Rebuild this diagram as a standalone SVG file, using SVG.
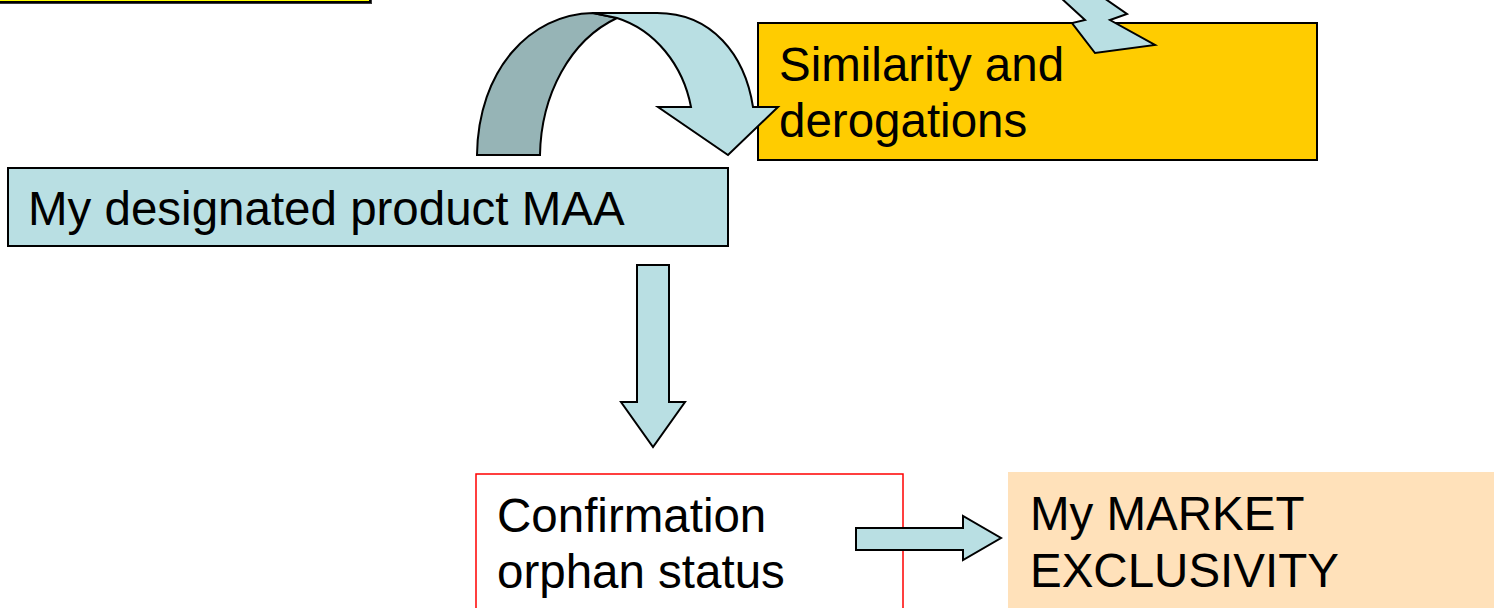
<svg xmlns="http://www.w3.org/2000/svg" width="1494" height="608" viewBox="0 0 1494 608">
  <style>
    .lbl { font-family: "Liberation Sans", Arial, sans-serif; font-size: 47.5px; fill: #000; }
    .box { stroke: #000; stroke-width: 2; }
    .flow { fill: #B9DFE3; stroke: #000; stroke-width: 2; stroke-linejoin: miter; }
    .back { fill: #96B4B6; stroke: #000; stroke-width: 2; }
  </style>
  <rect width="1494" height="608" fill="#fff"/>

  <!-- yellow header box, mostly off the top edge -->
  <g id="header-box">
    <rect x="-10" y="-60" width="382" height="64" fill="#3a3a3a"/>
    <rect x="-12" y="-62" width="382" height="64" fill="#FFFF00" class="box"/>
  </g>

  <!-- similarity / derogations -->
  <g id="similarity">
    <rect x="758" y="23" width="559" height="137" fill="#FFCC00" class="box"/>
    <text class="lbl" x="779" y="81">Similarity and</text>
    <text class="lbl" x="779" y="137">derogations</text>
  </g>

  <!-- designated product MAA -->
  <g id="maa">
    <rect x="8" y="168" width="720" height="78" fill="#B9DFE3" class="box"/>
    <text class="lbl" x="28" y="225">My designated product MAA</text>
  </g>

  <!-- confirmation of orphan status -->
  <g id="confirmation">
    <rect x="476" y="474" width="427" height="150" fill="#fff" stroke="#FF0000" stroke-width="1.5"/>
    <text class="lbl" x="497" y="532">Confirmation</text>
    <text class="lbl" x="497" y="588">orphan status</text>
  </g>

  <!-- market exclusivity -->
  <g id="exclusivity">
    <rect x="1008" y="472" width="500" height="150" fill="#FFE1BA"/>
    <text class="lbl" x="1030" y="530">My MARKET</text>
    <text class="lbl" x="1030" y="587">EXCLUSIVITY</text>
  </g>

  <g id="connectors">
    <!-- curved arrow: MAA to similarity -->
    <path class="back" d="M477,155 L540,155 C541,95 570,40 617,18 L593,13 C530,14 478,70 477,155 Z"/>
    <path class="flow" d="M593,13 L657,13 C712,13 745,55 753,107 L778,107 L728,155 L658,107 L691,107 C683,65 655,30 617,18 Z"/>

    <!-- lightning bolt into similarity box -->
    <path class="flow" d="M1061,-2 L1085,20 L1072,23 L1095,53 L1155,45 L1110,20 L1127,14 L1104,-2 Z"/>

    <!-- MAA down to confirmation -->
    <path class="flow" d="M637,265 L669,265 L669,402 L685,402 L653,447 L621,402 L637,402 Z"/>

    <!-- confirmation to market exclusivity -->
    <path class="flow" d="M856,528 L963,528 L963,516 L1001,538 L963,560 L963,550 L856,550 Z"/>
  </g>
</svg>
